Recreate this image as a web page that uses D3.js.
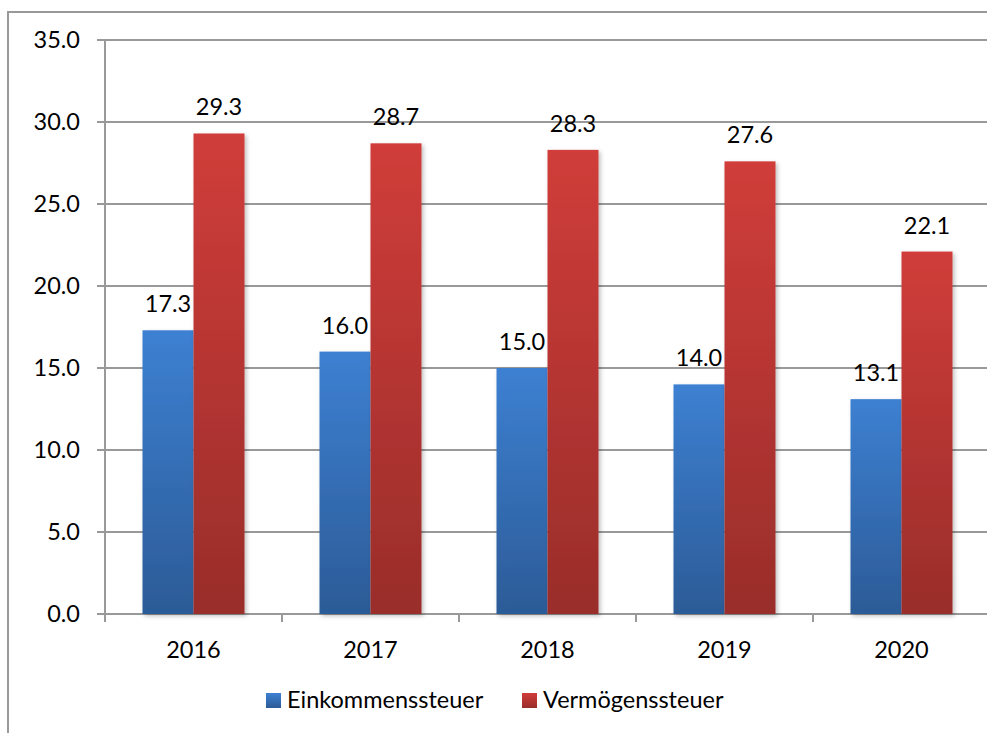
<!DOCTYPE html>
<html><head><meta charset="utf-8">
<script src="https://cdn.jsdelivr.net/npm/d3@7"></script>
<style>html,body{margin:0;padding:0;background:#fff;overflow:hidden}svg{display:block}text{font-family:Lato,"Open Sans",sans-serif;fill:#000}</style>
</head><body><svg id="c" width="987" height="733"></svg>
<script>
const years = ["2016","2017","2018","2019","2020"];
const seriesNames = ["Einkommenssteuer","Vermögenssteuer"];
const einkommen = [17.3, 16.0, 15.0, 14.0, 13.1];
const vermoegen = [29.3, 28.7, 28.3, 27.6, 22.1];
const yTicks = [0,5,10,15,20,25,30,35];

const svg = d3.select("#c");
const W = 987, H = 733;
const grid = "#999999";
const FS = 23.5;

const defs = svg.append("defs");
const grads = [["gBlue","#3d80d2","#2c5b97"],["gRed","#d03d3a","#992d2a"]];
grads.forEach(([id,a,b])=>{
  const g = defs.append("linearGradient").attr("id",id).attr("x1",0).attr("y1",0).attr("x2",0).attr("y2",1);
  g.append("stop").attr("offset","0%").attr("stop-color",a);
  g.append("stop").attr("offset","100%").attr("stop-color",b);
});
const f = defs.append("filter").attr("id","sh").attr("x","-20%").attr("y","-5%").attr("width","140%").attr("height","110%");
f.append("feDropShadow").attr("dx",2).attr("dy",2).attr("stdDeviation",2).attr("flood-color","#000").attr("flood-opacity",0.25);

// outer frame
svg.append("path").attr("d",`M8,${H+5}V12H${W+5}`).attr("fill","none").attr("stroke",grid).attr("stroke-width",2);

const x = d3.scaleBand().domain(years).range([105, 990]).paddingInner(0).paddingOuter(0);
const x1 = d3.scaleBand().domain(seriesNames).range([37.5, x.bandwidth()-37.5]).padding(0);
const y = d3.scaleLinear().domain([0,35]).range([614, 40]);

// gridlines
svg.append("g").selectAll("line").data(yTicks).join("line")
  .attr("x1",97).attr("x2",W+5).attr("y1",d=>y(d)).attr("y2",d=>y(d))
  .attr("stroke",grid).attr("stroke-width",2);
// y axis line
svg.append("line").attr("x1",105).attr("x2",105).attr("y1",y(35)).attr("y2",622).attr("stroke",grid).attr("stroke-width",2);
// x ticks at category boundaries
const bounds = years.map(d=>x(d)).concat([x(years[years.length-1])+x.bandwidth()]);
svg.append("g").selectAll("line").data(bounds).join("line")
  .attr("x1",d=>d).attr("x2",d=>d).attr("y1",614).attr("y2",622).attr("stroke",grid).attr("stroke-width",2);

// y labels
svg.append("g").selectAll("text").data(yTicks).join("text")
  .attr("x",80).attr("y",d=>y(d)+8).attr("text-anchor","end").attr("font-size",FS)
  .text(d=>d3.format(".1f")(d));
// x labels
svg.append("g").selectAll("text").data(years).join("text")
  .attr("x",d=>x(d)+x.bandwidth()/2).attr("y",658).attr("text-anchor","middle").attr("font-size",FS)
  .text(d=>d);

const data = years.map((yr,i)=>({yr, vals:[{s:seriesNames[0],v:einkommen[i],g:"gBlue"},{s:seriesNames[1],v:vermoegen[i],g:"gRed"}]}));
const grp = svg.append("g").selectAll("g").data(data).join("g").attr("transform",d=>`translate(${x(d.yr)},0)`);
grp.selectAll("rect").data(d=>d.vals).join("rect")
  .attr("x",d=>x1(d.s)).attr("width",x1.bandwidth())
  .attr("y",d=>y(d.v)).attr("height",d=>y(0)-y(d.v))
  .attr("fill",d=>`url(#${d.g})`).attr("filter","url(#sh)");
grp.selectAll("text").data(d=>d.vals).join("text")
  .attr("x",d=>x1(d.s)+x1.bandwidth()/2).attr("y",d=>y(d.v)-18)
  .attr("text-anchor","middle").attr("font-size",FS)
  .text(d=>d3.format(".1f")(d.v));

// legend
const leg = [{n:seriesNames[0],g:"gBlue",x:266},{n:seriesNames[1],g:"gRed",x:522}];
const lg = svg.append("g").selectAll("g").data(leg).join("g").attr("transform",d=>`translate(${d.x},693)`);
lg.append("rect").attr("width",15).attr("height",15).attr("fill",d=>`url(#${d.g})`);
lg.append("text").attr("x",21).attr("y",15).attr("font-size",FS).text(d=>d.n);
</script></body></html>
